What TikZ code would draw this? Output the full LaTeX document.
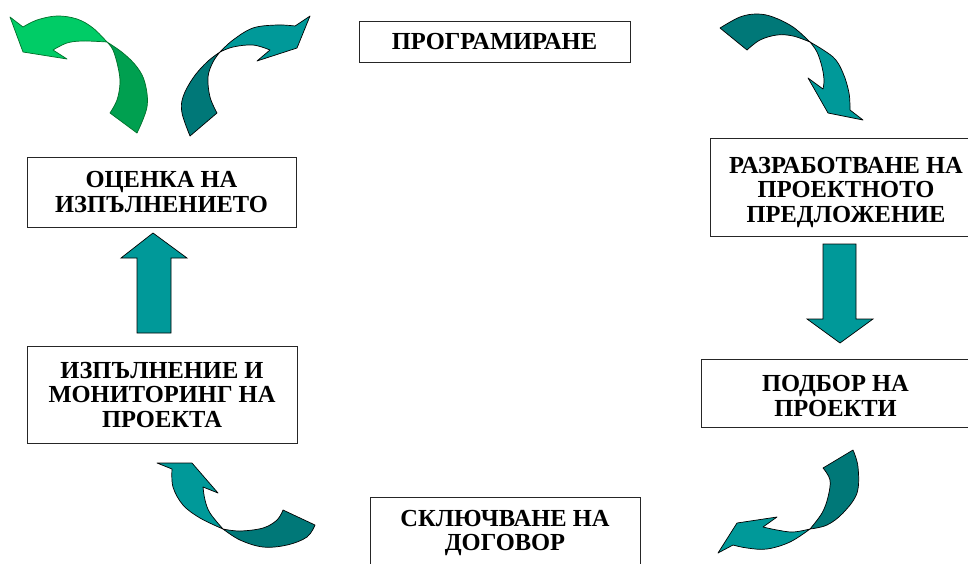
\documentclass[tikz,border=0pt]{standalone}
\usepackage{fontspec}
\setmainfont{Liberation Serif}
\begin{document}
\begin{tikzpicture}[x=1pt,y=-1pt,
  box/.style={draw=black!85,line width=0.9pt,fill=white,inner sep=0pt,align=center,
    font=\fontsize{24.5}{24.5}\selectfont\bfseries},
  boxtext/.style={inner sep=0pt,align=center,font=\fontsize{24.5}{24.5}\selectfont\bfseries},
  headT/.style={fill=tealA,draw=black,line width=0.7pt,line join=round},
  tailT/.style={fill=tealB,draw=black,line width=0.7pt,line join=round},
  headG/.style={fill=greenA,draw=greenE,line width=0.7pt,line join=round},
  tailG/.style={fill=greenB,draw=greenE,line width=0.7pt,line join=round},
  blockarrow/.style={fill=tealA,draw=black,line width=0.7pt}]
\definecolor{tealA}{HTML}{009999}
\definecolor{tealB}{HTML}{007878}
\definecolor{greenA}{HTML}{00CC66}
\definecolor{greenB}{HTML}{00A050}
\definecolor{greenE}{HTML}{00702A}
\useasboundingbox (0,0) rectangle (968,563);
\fill[white] (0,0) rectangle (968,563);

% boxes
\node[box,minimum width=271,minimum height=41] (prog) at (494.5,41.5) {ПРОГРАМИРАНЕ};
\node[box,minimum width=269,minimum height=70] (eval) at (161.5,192) {ОЦЕНКА НА\\ИЗПЪЛНЕНИЕТО};
\node[box,minimum width=270,minimum height=97] (impl) at (162,394.5) {ИЗПЪЛНЕНИЕ И\\МОНИТОРИНГ НА\\ПРОЕКТА};
\node[box,minimum width=272,minimum height=98] (dev) at (846,187) {};
\node[boxtext] (devt) at ([yshift=-5pt]dev.center) {РАЗРАБОТВАНЕ НА\\ПРОЕКТНОТО\\ПРЕДЛОЖЕНИЕ};
\node[box,minimum width=269,minimum height=68] (sel) at (835.5,393) {};
\node[boxtext] (selt) at ([yshift=-3pt]sel.center) {ПОДБОР НА\\ПРОЕКТИ};
\node[box,minimum width=270,minimum height=72] (contr) at (505,533) {СКЛЮЧВАНЕ НА\\ДОГОВОР};

% straight block arrows
\draw[blockarrow] (137,333) -- (137,258) -- (121,258) -- (153,233) -- (187,258) -- (171,258) -- (171,333) -- cycle;
\draw[blockarrow] (823,244) -- (856,244) -- (856,319) -- (873,319) -- (840,343) -- (807,319) -- (823,319) -- cycle;

% curved arrow 1 (green, top left)
\draw[tailG] (107,42) -- plot[smooth,tension=0.6] coordinates {(107,42) (113,50) (118,67) (120,83) (117,100) (110,113)}
  -- (137,133) -- plot[smooth,tension=0.6] coordinates {(137,133) (147,107) (145,83) (137,67) (123,53) (107,42)} -- cycle;
\draw[headG] (10,17) -- (23,52) -- (67,59) -- (53,50)
  -- plot[smooth,tension=0.6] coordinates {(53,50) (67,43) (83,41) (107,42)}
  -- plot[smooth,tension=0.6] coordinates {(107,42) (93,28) (77,19) (57,16) (37,20) (23,27)} -- cycle;

% curved arrow 2 (teal, top)
\draw[tailT] (220,52) -- plot[smooth,tension=0.6] coordinates {(220,52) (207,62) (193,78) (183,97) (182,113) (190,136)}
  -- (217,113) -- plot[smooth,tension=0.6] coordinates {(217,113) (210,97) (208,77) (213,62) (220,52)} -- cycle;
\draw[headT] (310,16) -- (297,48) -- (257,61) -- (270,50)
  -- plot[smooth,tension=0.6] coordinates {(270,50) (253,45) (233,47) (220,52)}
  -- plot[smooth,tension=0.6] coordinates {(220,52) (233,40) (253,28) (277,25) (295,26)} -- cycle;

% curved arrow 3 (teal, top right)
\draw[tailT] (720,28) -- (747,50)
  -- plot[smooth,tension=0.6] coordinates {(747,50) (760,40) (777,35) (793,36) (810,42)}
  -- plot[smooth,tension=0.6] coordinates {(810,42) (793,27) (773,17) (757,14) (740,17) (720,28)} -- cycle;
\draw[headT] (810,42) -- plot[smooth,tension=0.6] coordinates {(810,42) (817,52) (822,67) (824,80) (823,89)}
  -- (808,78) -- (828,113) -- (863,120) -- (850,110)
  -- plot[smooth,tension=0.6] coordinates {(850,110) (849,93) (843,73) (833,57) (810,42)} -- cycle;

% curved arrow 4 (teal, bottom left)
\draw[tailT] (223,529) -- plot[smooth,tension=0.6] coordinates {(223,529) (240,531) (263,528) (277,520) (283,510)}
  -- (315,525) -- plot[smooth,tension=0.6] coordinates {(315,525) (307,537) (287,545) (263,547) (240,540) (223,529)} -- cycle;
\draw[headT] (157,463) -- (192,463) -- (218,493) -- (203,487)
  -- plot[smooth,tension=0.6] coordinates {(203,487) (205,500) (210,513) (223,529)}
  -- plot[smooth,tension=0.6] coordinates {(223,529) (200,518) (183,505) (173,487) (172,469)} -- cycle;

% curved arrow 5 (teal, bottom right)
\draw[tailT] (823,468) -- (853,450)
  -- plot[smooth,tension=0.6] coordinates {(853,450) (858,467) (857,493) (843,513) (827,525) (810,529)}
  -- plot[smooth,tension=0.6] coordinates {(810,529) (822,513) (828,497) (830,480) (823,468)} -- cycle;
\draw[headT] (810,529) -- plot[smooth,tension=0.6] coordinates {(810,529) (790,542) (767,549) (747,548) (733,545)}
  -- (718,553) -- (737,523) -- (777,517) -- (763,527)
  -- plot[smooth,tension=0.6] coordinates {(763,527) (777,530) (793,532) (810,529)} -- cycle;
\end{tikzpicture}
\end{document}
